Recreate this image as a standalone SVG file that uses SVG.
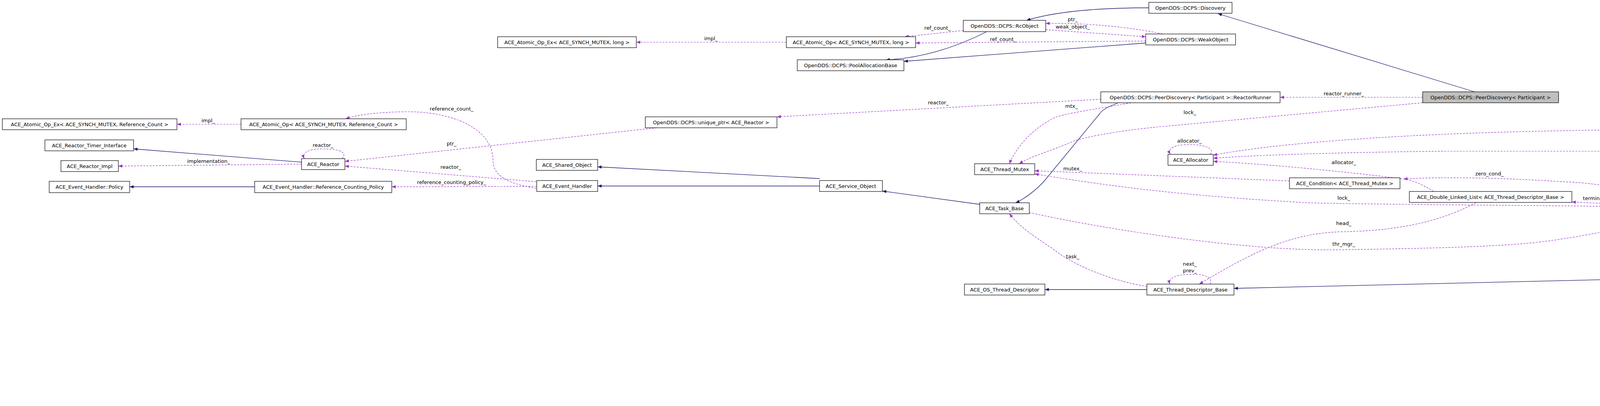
<svg xmlns="http://www.w3.org/2000/svg" width="5968" height="1039" viewBox="0 0 5968 1039">
<style>
.n rect{fill:#fff;stroke:#000;stroke-width:1.2}
.n text,.l{font-family:"DejaVu Sans","Liberation Sans",sans-serif;font-size:13px;fill:#000;text-anchor:middle}
.inh{fill:none;stroke:#191970;stroke-width:1.3;marker-end:url(#an)}
.use{fill:none;stroke:#9a32cd;stroke-width:1.2;stroke-dasharray:5,3;marker-end:url(#ap)}
</style>
<defs>
<marker id="an" viewBox="0 0 10 8" refX="10" refY="4" markerWidth="10" markerHeight="8" markerUnits="userSpaceOnUse" orient="auto"><path d="M0,0L10,4L0,8z" fill="#191970"/></marker>
<marker id="ap" viewBox="0 0 10 8" refX="10" refY="4" markerWidth="10" markerHeight="8" markerUnits="userSpaceOnUse" orient="auto"><path d="M0,0L10,4L0,8z" fill="#9a32cd"/></marker>
</defs>
<rect width="5968" height="1039" fill="#fff"/>
<g id="edges">
<path class="inh" d="M772,415L342,381"/>
<path class="inh" d="M652,478L332,478"/>
<path class="inh" d="M2098,457L1530,427"/>
<path class="inh" d="M2098,476L1530,476"/>
<path class="inh" d="M2508,523L2259,489"/>
<path class="inh" d="M2861,264C2840,272 2822,280 2816,290L2676,460C2650,490 2620,510 2600,519"/>
<path class="inh" d="M2526,81C2440,125 2350,150 2268,153"/>
<path class="inh" d="M2933,110L2314,157"/>
<path class="inh" d="M2941,20C2800,20 2700,30 2628,52"/>
<path class="inh" d="M3775,235L3118,35"/>
<path class="inh" d="M2936,741L2675,741"/>
<path class="inh" d="M4562,705L3159,738"/>
<path class="inh" d="M4981,569L4732,569"/>
<path class="use" d="M617,318L453,318"/>
<path class="use" d="M876,406C890,390 870,381 827,381C790,381 772,390 779,406"/>
<path class="use" d="M772,420L303,425"/>
<path class="use" d="M1373,482C1300,470 1262,450 1262,410C1262,330 1160,285 1040,286C960,287 910,295 885,304"/>
<path class="use" d="M1682,327L883,413"/>
<path class="use" d="M1373,465L883,425"/>
<path class="use" d="M1374,477L1003,478"/>
<path class="use" d="M2818,254L1989,299"/>
<path class="use" d="M2466,78L2316,94"/>
<path class="use" d="M2013,108L1629,108"/>
<path class="use" d="M2976,87C2900,70 2780,58 2677,60"/>
<path class="use" d="M2677,76L2933,94"/>
<path class="use" d="M2933,105L2344,110"/>
<path class="use" d="M3642,249L3277,249"/>
<path class="use" d="M3642,263L2995,322C2900,330 2800,345 2752,360C2680,390 2640,400 2609,419"/>
<path class="use" d="M2896,263C2800,280 2730,290 2702,300C2640,330 2600,380 2584,419"/>
<path class="use" d="M3301,463L2649,437"/>
<path class="use" d="M4210,530C4000,525 3600,525 3351,519C3000,500 2800,470 2649,445"/>
<path class="use" d="M3098,395C3110,383 3090,370 3045,370C3005,370 2988,380 2996,395"/>
<path class="use" d="M5759,737C5700,560 5560,400 5450,370C5380,340 5330,332 5270,332L4200,332C3700,335 3300,360 3106,397"/>
<path class="use" d="M5140,427C5060,410 4800,387 4650,387L3700,387C3400,390 3200,398 3106,405"/>
<path class="use" d="M3670,490C3640,470 3610,460 3593,458C3450,440 3250,420 3106,413"/>
<path class="use" d="M4255,518C4200,490 4100,468 4000,465C3850,455 3700,452 3593,458"/>
<path class="use" d="M4323,518C4330,505 4320,494 4295,494C4275,494 4264,504 4268,518"/>
<path class="use" d="M4335,518C4400,480 4500,460 4652,455C4800,450 4950,447 5046,446"/>
<path class="use" d="M4378,519C4450,505 4550,502 4652,503C4850,505 5050,520 5178,555"/>
<path class="use" d="M4210,525L4024,517"/>
<path class="use" d="M2635,544C2800,580 3050,620 3255,634C3350,640 3400,640 3440,639C3700,635 3900,630 4000,611C4150,590 4230,560 4258,546"/>
<path class="use" d="M3098,727C3105,712 3090,702 3050,702C3010,702 2990,712 2995,727"/>
<path class="use" d="M3778,519C3700,560 3600,590 3440,593C3300,595 3200,650 3070,727"/>
<path class="use" d="M2936,733C2850,720 2750,680 2700,640C2640,600 2610,580 2584,547"/>
<path class="use" d="M4619,688L4332,546"/>
<path class="use" d="M4300,546C4330,700 4420,880 4517,919C4600,935 4900,925 5100,920L5485,896C5620,870 5700,800 5746,765"/>
<path class="use" d="M5140,583C5000,620 4800,660 4705,688"/>
<path class="use" d="M5185,455C5100,490 5030,510 4997,519C4880,570 4740,650 4676,688"/>
<path class="use" d="M4744,690C4850,675 5000,675 5154,679"/>
<path class="use" d="M5154,691C5050,705 4850,706 4744,706"/>
<path class="use" d="M5283,667C5295,655 5280,643 5235,643C5190,643 5173,653 5180,667"/>
<path class="use" d="M5089,748C4950,740 4800,735 4724,718"/>
<path class="use" d="M4695,716C4800,770 5000,820 5178,854"/>
<path class="use" d="M5177,872C5000,870 4780,840 4700,760C4685,745 4672,730 4666,716"/>
<path class="use" d="M5177,876C5000,885 4850,893 4742,893"/>
<path class="use" d="M5207,882C5150,950 5050,995 4900,1000C4850,1003 4810,1006 4791,1007"/>
<path class="use" d="M4515,1008L4342,1016"/>
<path class="use" d="M5579,751L5381,751"/>
</g>
<g class="l-group">
<text class="l" x="533" y="313">impl_</text>
<text class="l" x="827" y="376">reactor_</text>
<text class="l" x="534" y="417">implementation_</text>
<text class="l" x="1820" y="103">impl_</text>
<text class="l" x="1156" y="283">reference_count_</text>
<text class="l" x="1156" y="372">ptr_</text>
<text class="l" x="1154" y="432">reactor_</text>
<text class="l" x="1156" y="471">reference_counting_policy_</text>
<text class="l" x="2400" y="76">ref_count_</text>
<text class="l" x="2746" y="54">ptr_</text>
<text class="l" x="2746" y="73">weak_object_</text>
<text class="l" x="2568" y="105">ref_count_</text>
<text class="l" x="2402" y="267">reactor_</text>
<text class="l" x="2743" y="276">mtx_</text>
<text class="l" x="2746" y="436">mutex_</text>
<text class="l" x="3440" y="244">reactor_runner_</text>
<text class="l" x="3046" y="292">lock_</text>
<text class="l" x="3045" y="365">allocator_</text>
<text class="l" x="3440" y="420">allocator_</text>
<text class="l" x="3813" y="449">zero_cond_</text>
<text class="l" x="3440" y="511">lock_</text>
<text class="l" x="4445" y="327">allocator_</text>
<text class="l" x="4293" y="381">allocator_</text>
<text class="l" x="4652" y="453">thr_list_</text>
<text class="l" x="4293" y="488">thr_mgr_</text>
<text class="l" x="4652" y="497">thread_desc_freelist_</text>
<text class="l" x="4117" y="512">terminated_thr_list_</text>
<text class="l" x="4885" y="531">head_</text>
<text class="l" x="4446" y="581">tm_</text>
<text class="l" x="4885" y="613">free_list_</text>
<text class="l" x="4885" y="673">at_exit_list_</text>
<text class="l" x="4885" y="701">td_</text>
<text class="l" x="4885" y="725">item_</text>
<text class="l" x="4885" y="760">log_msg_</text>
<text class="l" x="4885" y="820">thr_desc_</text>
<text class="l" x="4885" y="888">msg_callback_</text>
<text class="l" x="4885" y="917">thr_to_be_removed_</text>
<text class="l" x="4885" y="985">ostream_refcount_</text>
<text class="l" x="4445" y="1005">own_mutex_</text>
<text class="l" x="5231" y="637">next_</text>
<text class="l" x="5529" y="745">head_</text>
<text class="l" x="2746" y="661">task_</text>
<text class="l" x="3440" y="576">head_</text>
<text class="l" x="3440" y="629">thr_mgr_</text>
<text class="l" x="3046" y="680">next_</text>
<text class="l" x="3046" y="697">prev_</text>
</g>
<g id="n1" class="n"><rect x="6" y="304" width="447" height="28"/><text x="229.5" y="323">ACE_Atomic_Op_Ex&lt; ACE_SYNCH_MUTEX, Reference_Count &gt;</text></g>
<g id="n2" class="n"><rect x="617" y="304" width="423" height="28"/><text x="828.5" y="323">ACE_Atomic_Op&lt; ACE_SYNCH_MUTEX, Reference_Count &gt;</text></g>
<g id="n3" class="n"><rect x="115" y="358" width="227" height="28"/><text x="228.5" y="377">ACE_Reactor_Timer_Interface</text></g>
<g id="n4" class="n"><rect x="156" y="411" width="147" height="28"/><text x="229.5" y="430">ACE_Reactor_Impl</text></g>
<g id="n5" class="n"><rect x="126" y="464" width="206" height="29"/><text x="229" y="483">ACE_Event_Handler::Policy</text></g>
<g id="n6" class="n"><rect x="772" y="406" width="111" height="28"/><text x="827.5" y="425">ACE_Reactor</text></g>
<g id="n7" class="n"><rect x="652" y="464" width="351" height="29"/><text x="827.5" y="483">ACE_Event_Handler::Reference_Counting_Policy</text></g>
<g id="n8" class="n"><rect x="1274" y="94" width="355" height="28"/><text x="1451.5" y="113">ACE_Atomic_Op_Ex&lt; ACE_SYNCH_MUTEX, long &gt;</text></g>
<g id="n9" class="n"><rect x="1652" y="299" width="337" height="28"/><text x="1820.5" y="318">OpenDDS::DCPS::unique_ptr&lt; ACE_Reactor &gt;</text></g>
<g id="n10" class="n"><rect x="1373" y="408" width="157" height="28"/><text x="1451.5" y="427">ACE_Shared_Object</text></g>
<g id="n11" class="n"><rect x="1374" y="462" width="156" height="28"/><text x="1452" y="481">ACE_Event_Handler</text></g>
<g id="n12" class="n"><rect x="2013" y="94" width="331" height="28"/><text x="2178.5" y="113">ACE_Atomic_Op&lt; ACE_SYNCH_MUTEX, long &gt;</text></g>
<g id="n13" class="n"><rect x="2466" y="52" width="211" height="29"/><text x="2571.5" y="71">OpenDDS::DCPS::RcObject</text></g>
<g id="n14" class="n"><rect x="2041" y="153" width="273" height="28"/><text x="2177.5" y="172">OpenDDS::DCPS::PoolAllocationBase</text></g>
<g id="n15" class="n"><rect x="2941" y="6" width="213" height="28"/><text x="3047.5" y="25">OpenDDS::DCPS::Discovery</text></g>
<g id="n16" class="n"><rect x="2933" y="87" width="230" height="28"/><text x="3048" y="106">OpenDDS::DCPS::WeakObject</text></g>
<g id="n17" class="n"><rect x="2818" y="235" width="459" height="28"/><text x="3047.5" y="254">OpenDDS::DCPS::PeerDiscovery&lt; Participant &gt;::ReactorRunner</text></g>
<g id="n18" class="n"><rect x="2495" y="419" width="154" height="28"/><text x="2572" y="438">ACE_Thread_Mutex</text></g>
<g id="n19" class="n"><rect x="2098" y="462" width="161" height="28"/><text x="2178.5" y="481">ACE_Service_Object</text></g>
<g id="n20" class="n"><rect x="2508" y="519" width="127" height="28"/><text x="2571.5" y="538">ACE_Task_Base</text></g>
<g id="n21" class="n"><rect x="3642" y="235" width="348" height="28" style="fill:#bfbfbf"/><text x="3816" y="254">OpenDDS::DCPS::PeerDiscovery&lt; Participant &gt;</text></g>
<g id="n22" class="n"><rect x="2990" y="395" width="116" height="28"/><text x="3048" y="414">ACE_Allocator</text></g>
<g id="n23" class="n"><rect x="3301" y="455" width="283" height="28"/><text x="3442.5" y="474">ACE_Condition&lt; ACE_Thread_Mutex &gt;</text></g>
<g id="n24" class="n"><rect x="3608" y="490" width="416" height="28"/><text x="3816" y="509">ACE_Double_Linked_List&lt; ACE_Thread_Descriptor_Base &gt;</text></g>
<g id="n25" class="n"><rect x="4210" y="518" width="168" height="28"/><text x="4294" y="537">ACE_Thread_Manager</text></g>
<g id="n26" class="n"><rect x="5046" y="427" width="375" height="28"/><text x="5233.5" y="446">ACE_Double_Linked_List&lt; ACE_Thread_Descriptor &gt;</text></g>
<g id="n27" class="n"><rect x="4575" y="555" width="157" height="28"/><text x="4653.5" y="574">ACE_Free_List&lt; T &gt;</text></g>
<g id="n28" class="n"><rect x="4562" y="688" width="182" height="28"/><text x="4653" y="707">ACE_Thread_Descriptor</text></g>
<g id="n29" class="n"><rect x="4564" y="876" width="178" height="29"/><text x="4653" y="895">ACE_Log_Msg_Callback</text></g>
<g id="n30" class="n"><rect x="4515" y="988" width="276" height="28"/><text x="4653" y="1007">ACE_Atomic_Op&lt; ACE_LOCK, TYPE &gt;</text></g>
<g id="n31" class="n"><rect x="4247" y="1004" width="95" height="28" style="stroke:#bfbfbf"/><text x="4294.5" y="1023">ACE_LOCK</text></g>
<g id="n32" class="n"><rect x="4981" y="555" width="507" height="28"/><text x="5234.5" y="574">ACE_Locked_Free_List&lt; ACE_Thread_Descriptor, ACE_SYNCH_MUTEX &gt;</text></g>
<g id="n33" class="n"><rect x="5154" y="667" width="160" height="28"/><text x="5234" y="686">ACE_At_Thread_Exit</text></g>
<g id="n34" class="n"><rect x="5089" y="737" width="292" height="28"/><text x="5235" y="756">ACE_Node&lt; ACE_Thread_Descriptor * &gt;</text></g>
<g id="n35" class="n"><rect x="5579" y="737" width="383" height="28"/><text x="5770.5" y="756">ACE_Unbounded_Queue&lt; ACE_Thread_Descriptor * &gt;</text></g>
<g id="n36" class="n"><rect x="5177" y="854" width="115" height="28"/><text x="5234.5" y="873">ACE_Log_Msg</text></g>
<g id="n37" class="n"><rect x="2469" y="727" width="206" height="28"/><text x="2572" y="746">ACE_OS_Thread_Descriptor</text></g>
<g id="n38" class="n"><rect x="2936" y="727" width="223" height="28"/><text x="3047.5" y="746">ACE_Thread_Descriptor_Base</text></g>
</svg>
